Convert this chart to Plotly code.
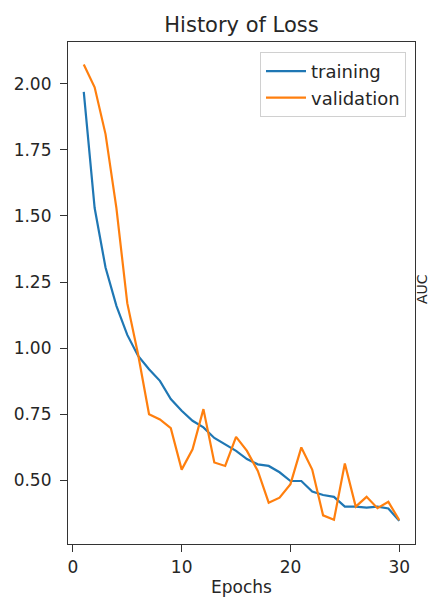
import plotly.graph_objects as go

epochs = list(range(1, 31))
training = [1.97, 1.53, 1.305, 1.16, 1.05, 0.97, 0.92, 0.876, 0.807, 0.763,
            0.725, 0.70, 0.66, 0.634, 0.611, 0.58, 0.56, 0.554, 0.53, 0.497,
            0.497, 0.457, 0.444, 0.437, 0.40, 0.40, 0.396, 0.40, 0.393, 0.346]
validation = [2.073, 1.987, 1.81, 1.53, 1.17, 0.975, 0.75, 0.73, 0.697, 0.54,
              0.617, 0.769, 0.567, 0.554, 0.664, 0.611, 0.535, 0.415, 0.434, 0.485,
              0.624, 0.54, 0.367, 0.35, 0.563, 0.40, 0.437, 0.394, 0.418, 0.349]

W, H = 429, 597
L, R, T, B = 68, 415, 42, 544
FONT = "DejaVu Sans"
TXT = "#262626"

fig = go.Figure()
fig.add_trace(go.Scatter(x=epochs, y=training, mode="lines", name="training",
                         line=dict(color="#1f77b4", width=2.2)))
fig.add_trace(go.Scatter(x=epochs, y=validation, mode="lines", name="validation",
                         line=dict(color="#ff7f0e", width=2.2)))

fig.update_layout(
    width=W, height=H,
    margin=dict(l=L, r=W - R, t=T, b=H - B, pad=0, autoexpand=False),
    paper_bgcolor="white", plot_bgcolor="white",
    font=dict(family=FONT, size=17, color=TXT),
    title=dict(text="History of Loss", x=(L + R) / 2 / W, xanchor="center",
               y=1 - 25 / H, yanchor="middle",
               font=dict(family=FONT, size=21, color=TXT)),
    showlegend=True,
    legend=dict(x=(406 - L) / (R - L), y=(B - 52) / (B - T), xanchor="right", yanchor="top",
                bgcolor="rgba(255,255,255,0.8)", bordercolor="#d0d0d0", borderwidth=1,
                font=dict(family=FONT, size=18, color=TXT), itemwidth=40),
    xaxis=dict(range=[-0.45, 31.45], tickmode="linear", tick0=0, dtick=10,
               automargin=False,
               showgrid=False, zeroline=False, showline=True, mirror=True,
               linecolor="#333333", linewidth=1.2, ticks="outside", ticklen=7,
               tickcolor="#333333", tickwidth=1.2,
               title=dict(text="Epochs", standoff=6, font=dict(size=17))),
    yaxis=dict(range=[0.2585, 2.1585], tickmode="linear", tick0=0.5, dtick=0.25,
               tickformat=".2f", automargin=False, ticklabelstandoff=5,
               showgrid=False, zeroline=False, showline=True, mirror=True,
               linecolor="#333333", linewidth=1.2, ticks="outside", ticklen=7,
               tickcolor="#333333", tickwidth=1.2),
    annotations=[dict(text="AUC", xref="paper", yref="paper",
                      x=(422 - L) / (R - L), y=(B - 289) / (B - T),
                      xanchor="center", yanchor="middle", textangle=-90,
                      showarrow=False, font=dict(family=FONT, size=14, color=TXT))],
)

fig.write_html("out.html", config={"displayModeBar": False},
               post_script="document.body.style.margin='0';document.body.style.overflow='hidden';")
